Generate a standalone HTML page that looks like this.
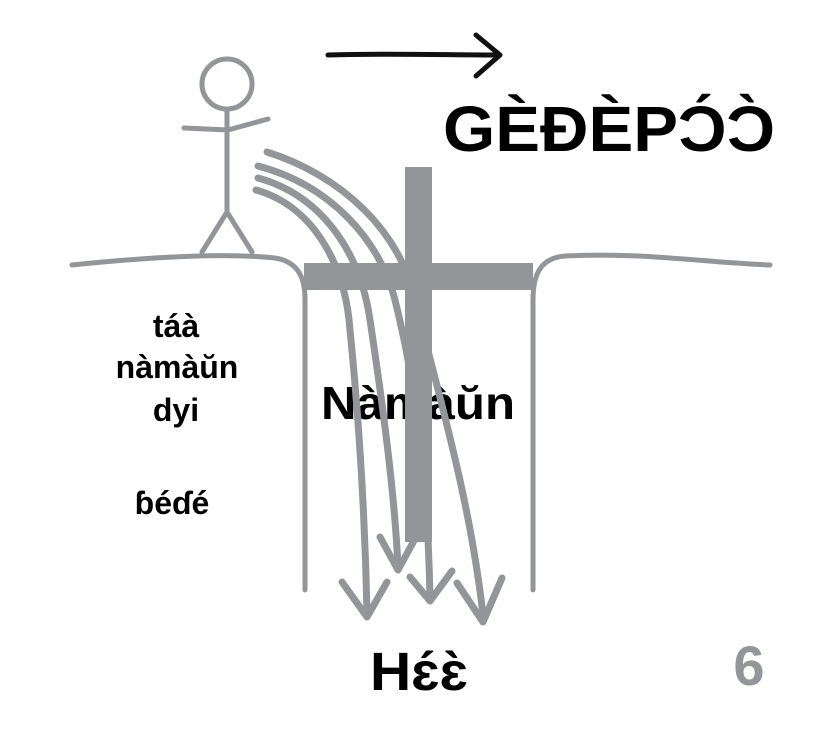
<!DOCTYPE html>
<html><head><meta charset="utf-8"><style>
html,body{margin:0;padding:0;background:#fff;width:840px;height:750px;overflow:hidden}
svg{display:block}
text{font-family:"Liberation Sans","DejaVu Sans",sans-serif;font-weight:bold}
</style></head><body>
<svg width="840" height="750" viewBox="0 0 840 750">
<text x="321" y="419" font-size="46" fill="#000" textLength="194" lengthAdjust="spacingAndGlyphs">Nàmàŭn</text>
<g fill="none" stroke="#939598" stroke-linecap="round" stroke-linejoin="round">
<path d="M72,265 C140,258 220,252 275,258 C300,262 305,280 305,300 L305,590" stroke-width="5"/>
<path d="M533,590 L533,300 C533,275 540,258 565,256 C640,252 700,262 770,265" stroke-width="5"/>
<circle cx="227" cy="84" r="25" stroke-width="5"/>
<path d="M227,109 L227,212 M184,128 L228,130 L268,119 M227,212 L202,252 M227,212 L252,252" stroke-width="5"/>
<path d="M267,152 C340,175 400,230 415,300 C440,400 470,500 483,615" stroke-width="7"/>
<path d="M258,166 C330,185 380,240 395,300 C420,400 428,500 430,598" stroke-width="7"/>
<path d="M258,178 C320,195 360,250 370,320 C385,420 395,500 398,568" stroke-width="7"/>
<path d="M256,190 C310,205 345,260 350,330 C360,430 365,520 367,612" stroke-width="7"/>
<path d="M380,537 L398,570 L416,537" stroke-width="7"/>
<path d="M342,582 L367,617 L387,582" stroke-width="7"/>
<path d="M410,577 L430,601 L452,571" stroke-width="7"/>
<path d="M457,583 L483,622 L502,578" stroke-width="7"/>
</g>
<rect x="405" y="167" width="27" height="375" fill="#939598"/>
<rect x="304" y="263" width="229" height="27" fill="#939598"/>
<path d="M328,55 C380,53 450,55 500,55 M476,35 L500,55 L476,76" fill="none" stroke="#111" stroke-width="5" stroke-linecap="round" stroke-linejoin="round"/>
<text x="443" y="151" font-size="64" fill="#000" textLength="332" lengthAdjust="spacingAndGlyphs">GÈĐÈPƆ́Ɔ̀</text>
<g font-size="32" fill="#000" text-anchor="middle">
<text x="176" y="337">táà</text>
<text x="177" y="378">nàmàŭn</text>
<text x="176" y="421">dyi</text>
<text x="172" y="514">ɓéɗé</text>
</g>
<text x="370" y="690" font-size="54" fill="#000" textLength="98" lengthAdjust="spacingAndGlyphs">Hɛ́ɛ̀</text>
<text x="749" y="685" font-size="56" fill="#939598" text-anchor="middle">6</text>
</svg>
</body></html>
